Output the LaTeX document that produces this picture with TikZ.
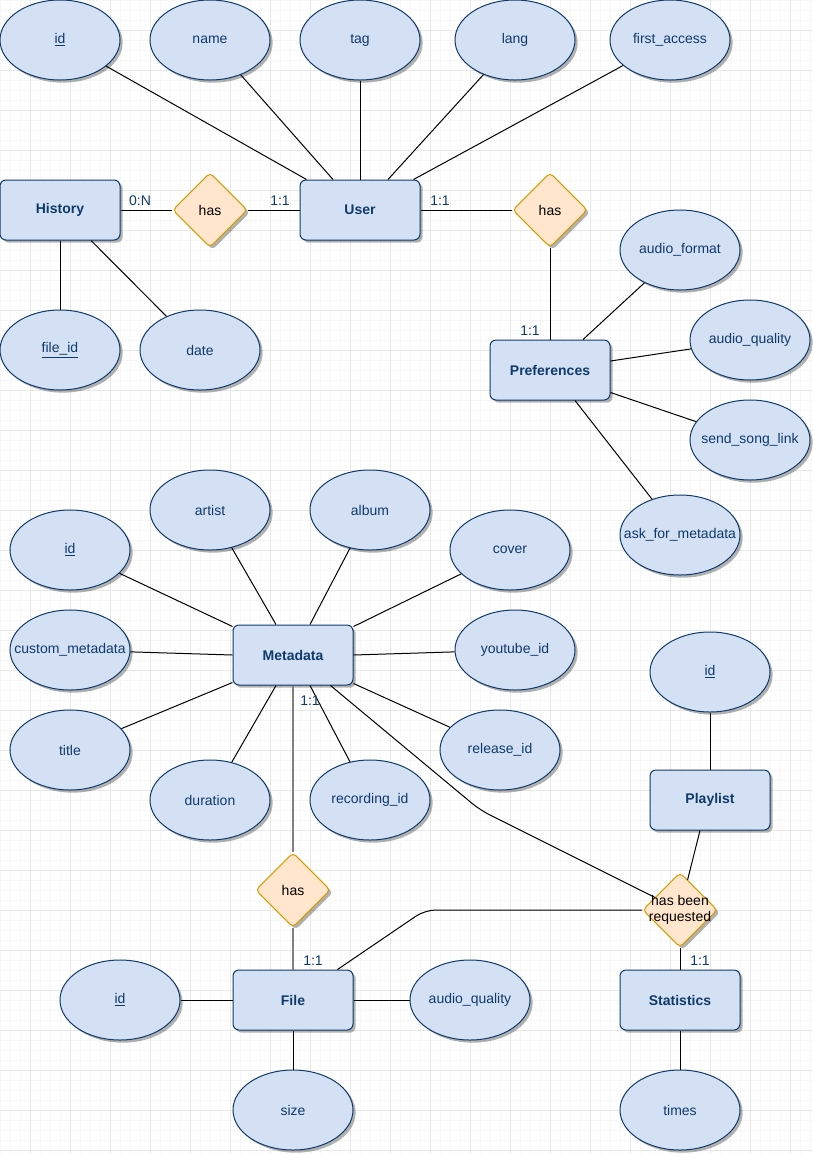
\documentclass[tikz,border=0pt]{standalone}
\usepackage{fontspec}
\setmainfont{Liberation Sans}
\usetikzlibrary{shapes.geometric,shadows,calc}
\definecolor{attrfill}{HTML}{D4E1F5}
\definecolor{navy}{HTML}{0F3A6B}
\definecolor{relfill}{HTML}{FFE6CC}
\definecolor{reldraw}{HTML}{D79B00}
\definecolor{minorgrid}{HTML}{F6F6F6}
\definecolor{majorgrid}{HTML}{E8E8E8}
\definecolor{linkgray}{HTML}{808080}
\tikzset{
  dshadow/.style={drop shadow={shadow xshift=2pt,shadow yshift=-2pt,opacity=.3,fill=black}},
  attr/.style={ellipse,draw=navy,fill=attrfill,text=navy,minimum width=90pt,minimum height=60pt,
    inner xsep=-15pt,inner ysep=0pt,dshadow,font=\fontsize{10.5}{12}\selectfont},
  entity/.style={rectangle,rounded corners=4.5pt,draw=navy,fill=attrfill,text=navy,
    minimum width=90pt,minimum height=45pt,dshadow,font=\fontsize{10.5}{12}\selectfont\bfseries},
  rel/.style={diamond,aspect=1,rounded corners=3pt,draw=reldraw,fill=relfill,
    minimum width=56pt,minimum height=56pt,inner sep=0pt,dshadow,font=\fontsize{10.5}{12}\selectfont},
  card/.style={text=navy,inner sep=0pt,font=\fontsize{10.5}{12}\selectfont},
  link/.style={draw=black},
  strong/.style={draw=linkgray,line width=1.5pt},
}
\begin{document}
\begin{tikzpicture}[x=0.75pt,y=-0.75pt,line width=0.75pt]
\useasboundingbox (0,0) rectangle (813,1154);
\fill[white] (0,0) rectangle (813,1154);
% grid
\foreach \x in {0,10,...,810}
    \draw[minorgrid] (\x,0)--(\x,1154);
\foreach \y in {0,10,...,1150}
    \draw[minorgrid] (0,\y)--(813,\y);
\foreach \x in {30,70,...,790}
    \draw[majorgrid] (\x,0)--(\x,1154);
\foreach \y in {30,70,...,1150}
    \draw[majorgrid] (0,\y)--(813,\y);

% user
\node[entity] (user) at (360,210) {User};
\node[entity] (history) at (60,210) {History};
\node[rel] (hhas) at (210,210) {has};
\node[rel] (phas) at (550,210) {has};
\node[entity] (pref) at (550,370) {Preferences};
\node[attr] (uid) at (60,40) {\underline{id}};
\node[attr] (uname) at (210,40) {name};
\node[attr] (utag) at (360,40) {tag};
\node[attr] (ulang) at (515,40) {lang};
\node[attr] (ufirst) at (670,40) {first\_access};
\node[attr] (hfile) at (60,350) {\underline{file\_id}};
\node[attr] (hdate) at (200,350) {date};
\node[attr] (pformat) at (680,250) {audio\_format};
\node[attr] (pquality) at (750,340) {audio\_quality};
\node[attr] (plink) at (750,440) {send\_song\_link};
\node[attr] (pask) at (680,535) {ask\_for\_metadata};

\draw[link] (uid)--($(user.north west)+(7,0)$);
\draw[link] (uname)--($(user.north)+(-27,0)$);
\draw[link] (utag)--(user.north);
\draw[link] (ulang)--($(user.north)+(28,0)$);
\draw[link] (ufirst)--($(user.north east)+(-7,0)$);
\draw[link] (history)--(hhas);
\draw[link] (hhas)--(user);
\draw[link] (user)--(phas);
\draw[link] (phas)--(pref);
\draw[link] (hfile)--(history.south);
\draw[link] (hdate)--($(history.south)+(31,0)$);
\draw[link] (pformat)--($(pref.north)+(33,0)$);
\draw[link] (pquality)--($(pref.east)+(0,-9)$);
\draw[link] (plink)--($(pref.south east)+(0,-8)$);
\draw[link] (pask)--($(pref.south)+(25,0)$);
\node[card] (c1) at (140,201) {0:N};
\node[card] (c2) at (280,201) {1:1};
\node[card] (c3) at (440,201) {1:1};
\node[card] (c4) at (530,331) {1:1};

% metadata
\node[entity] (meta) at (293,655) {Metadata};
\node[attr] (mid) at (70,550) {\underline{id}};
\node[attr] (martist) at (210,510) {artist};
\node[attr] (malbum) at (370,510) {album};
\node[attr] (mcover) at (510,550) {cover};
\node[attr] (mcustom) at (70,650) {custom\_metadata};
\node[attr] (myoutube) at (515,650) {youtube\_id};
\node[attr] (mtitle) at (70,750) {title};
\node[attr] (mrelease) at (500,750) {release\_id};
\node[attr] (mduration) at (210,800) {duration};
\node[attr] (mrecording) at (370,800) {recording\_id};

\draw[link] (mid)--($(meta.north west)+(0,2)$);
\draw[link] (martist)--($(meta.north)+(-17,0)$);
\draw[link] (malbum)--($(meta.north)+(17,0)$);
\draw[link] (mcover)--($(meta.north east)+(0,2)$);
\draw[link] (mcustom)--(meta.west);
\draw[link] (myoutube)--(meta.east);
\draw[link] (mtitle)--($(meta.south west)+(0,-3)$);
\draw[link] (mduration)--($(meta.south)+(-17,0)$);
\draw[link] (mrecording)--($(meta.south)+(17,0)$);
\draw[link] (mrelease)--($(meta.south east)+(0,-2)$);

% file, playlist, statistics
\node[rel] (fhas) at (293,890) {has};
\node[entity] (file) at (293,1000) {File};
\node[attr] (fid) at (120,1000) {\underline{id}};
\node[attr] (fquality) at (470,1000) {audio\_quality};
\node[attr] (fsize) at (293,1110) {size};
\node[entity] (playlist) at (710,800) {Playlist};
\node[attr] (plid) at (710,672) {\underline{id}};
\node[rel,label={[align=center,inner sep=0pt,font=\fontsize{10.5}{12}\selectfont]center:has been\\requested}] (req) at (680,910) {};
\node[entity] (stats) at (680,1000) {Statistics};
\node[attr] (stimes) at (680,1110) {times};
\coordinate (bend1) at (480,810);
\coordinate (bend2) at (425,910);

\draw[strong] (meta)--(fhas);
\draw[strong] (fhas)--(file);
\draw[link] (fid)--(file);
\draw[link] (fquality)--(file);
\draw[link] (fsize)--(file);
\draw[link] (plid)--(playlist);
\draw[link] ($(playlist.south)+(-10,0)$)--(req);
\draw[link] (req)--(stats);
\draw[link] (stimes)--(stats);
\draw[link,rounded corners=8pt] ($(meta.south east)+(-23,0)$)--(bend1)--(req);
\draw[link,rounded corners=8pt] ($(file.north east)+(-16,0)$)--(bend2)--(req.west);
\node[card] (c5) at (310,701) {1:1};
\node[card] (c6) at (313,961) {1:1};
\node[card] (c7) at (700,961) {1:1};
\end{tikzpicture}
\end{document}
